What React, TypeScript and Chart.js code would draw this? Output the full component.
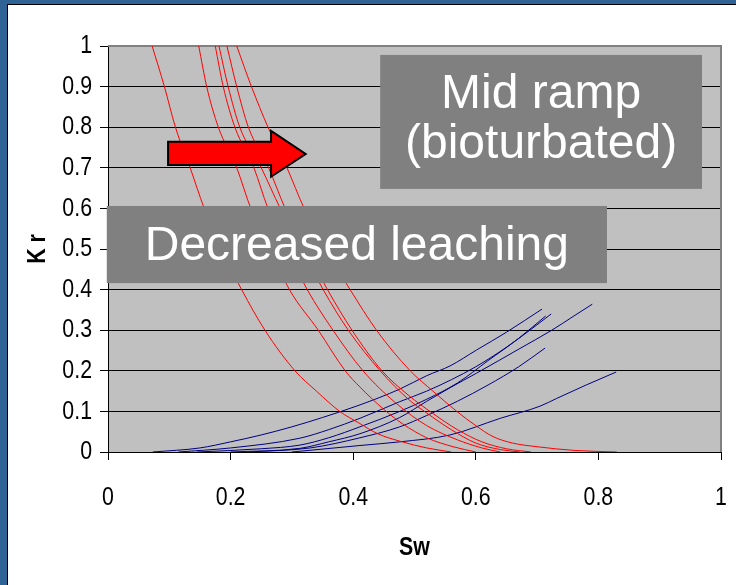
import React, { useEffect, useRef } from 'react';
import { Chart, registerables } from 'chart.js';
Chart.register(...registerables);

// ---- tick labels ----
const xTickLabels = ['0', '0.2', '0.4', '0.6', '0.8', '1'];
const yTickLabels = ['0', '0.1', '0.2', '0.3', '0.4', '0.5', '0.6', '0.7', '0.8', '0.9', '1'];

// ---- red curves (Kro) ----
const red1Sw = [0.072, 0.092, 0.110, 0.134, 0.157, 0.185, 0.218, 0.256, 0.305, 0.340, 0.378, 0.411, 0.440, 0.480, 0.520, 0.560];
const red1Kr = [1, 0.9, 0.8, 0.7, 0.6, 0.5, 0.4, 0.3, 0.2, 0.15, 0.1, 0.07, 0.045, 0.025, 0.01, 0];
const red2Sw = [0.148, 0.161, 0.180, 0.210, 0.233, 0.265, 0.296, 0.343, 0.387, 0.411, 0.450, 0.480, 0.520, 0.563, 0.600];
const red2Kr = [1, 0.9, 0.8, 0.7, 0.6, 0.5, 0.4, 0.3, 0.2, 0.16, 0.105, 0.07, 0.035, 0.013, 0];
const red3Sw = [0.175, 0.188, 0.207, 0.238, 0.261, 0.292, 0.325, 0.367, 0.416, 0.470, 0.520, 0.570, 0.610, 0.640];
const red3Kr = [1, 0.9, 0.8, 0.7, 0.6, 0.5, 0.4, 0.3, 0.2, 0.12, 0.065, 0.03, 0.01, 0];
const red4Sw = [0.181, 0.196, 0.215, 0.250, 0.281, 0.316, 0.351, 0.392, 0.444, 0.490, 0.520, 0.560, 0.600, 0.640, 0.672];
const red4Kr = [1, 0.9, 0.8, 0.7, 0.6, 0.5, 0.4, 0.3, 0.2, 0.13, 0.096, 0.055, 0.022, 0.006, 0];
const red5Sw = [0.194, 0.210, 0.229, 0.262, 0.289, 0.323, 0.358, 0.398, 0.447, 0.490, 0.530, 0.570, 0.610, 0.650, 0.690];
const red5Kr = [1, 0.9, 0.8, 0.7, 0.6, 0.5, 0.4, 0.3, 0.2, 0.14, 0.095, 0.055, 0.025, 0.008, 0];
const red6Sw = [0.210, 0.234, 0.261, 0.292, 0.320, 0.355, 0.395, 0.438, 0.493, 0.530, 0.569, 0.600, 0.628, 0.660, 0.700, 0.760, 0.830];
const red6Kr = [1, 0.9, 0.8, 0.7, 0.6, 0.5, 0.4, 0.3, 0.2, 0.15, 0.1, 0.065, 0.038, 0.022, 0.013, 0.004, 0];

// ---- blue curves (Krw) ----
const blue1Sw = [0.073, 0.150, 0.200, 0.250, 0.300, 0.350, 0.411, 0.476, 0.520, 0.558, 0.601, 0.650, 0.708];
const blue1Kr = [0, 0.01, 0.025, 0.042, 0.062, 0.085, 0.116, 0.155, 0.188, 0.212, 0.251, 0.295, 0.352];
const blue2Sw = [0.115, 0.200, 0.313, 0.360, 0.411, 0.476, 0.520, 0.560, 0.600, 0.650, 0.690, 0.723];
const blue2Kr = [0, 0.01, 0.034, 0.055, 0.083, 0.124, 0.150, 0.178, 0.210, 0.258, 0.302, 0.340];
const blue3Sw = [0.145, 0.250, 0.313, 0.360, 0.411, 0.476, 0.520, 0.570, 0.620, 0.670, 0.714];
const blue3Kr = [0, 0.008, 0.017, 0.035, 0.062, 0.100, 0.130, 0.170, 0.225, 0.280, 0.335];
const blue4Sw = [0.200, 0.313, 0.360, 0.411, 0.476, 0.520, 0.560, 0.601, 0.672, 0.724, 0.760, 0.790];
const blue4Kr = [0, 0.009, 0.025, 0.045, 0.085, 0.125, 0.160, 0.194, 0.255, 0.300, 0.335, 0.364];
const blue5Sw = [0.230, 0.330, 0.411, 0.476, 0.520, 0.570, 0.620, 0.670, 0.713];
const blue5Kr = [0, 0.010, 0.035, 0.062, 0.090, 0.125, 0.165, 0.210, 0.256];
const blue6Sw = [0.300, 0.411, 0.476, 0.558, 0.640, 0.705, 0.732, 0.780, 0.829];
const blue6Kr = [0, 0.016, 0.025, 0.042, 0.083, 0.113, 0.132, 0.165, 0.197];

const redCurves = [
  [red1Sw, red1Kr], [red2Sw, red2Kr], [red3Sw, red3Kr],
  [red4Sw, red4Kr], [red5Sw, red5Kr], [red6Sw, red6Kr],
];
const blueCurves = [
  [blue1Sw, blue1Kr], [blue2Sw, blue2Kr], [blue3Sw, blue3Kr],
  [blue4Sw, blue4Kr], [blue5Sw, blue5Kr], [blue6Sw, blue6Kr],
];

// ---- overlay annotations (in data units) ----
const midRampBox = { x0: 0.444, x1: 0.969, y0: 0.978, y1: 0.648, lines: ['Mid ramp', '(bioturbated)'] };
const leachBox = { x0: -0.002, x1: 0.814, y0: 0.606, y1: 0.416, lines: ['Decreased leaching'] };
const arrowPts = [
  [0.098, 0.764], [0.266, 0.764], [0.266, 0.791], [0.3225, 0.734],
  [0.266, 0.678], [0.266, 0.707], [0.098, 0.707],
];

const SANS = "'Liberation Sans', Arial, Helvetica, sans-serif";
const CONDENSE = 0.82;

// draw the library's own axis texts horizontally condensed (Arial Narrow look)
function condenseScaleText(scale: any) {
  if (scale.__condensed) return;
  scale.__condensed = true;
  const wrap = (name: string) => {
    const orig = scale[name];
    scale[name] = function (...args: any[]) {
      const ctx = this.ctx;
      const origRotate = ctx.rotate;
      ctx.rotate = function (a: number) {
        origRotate.call(this, a);
        this.scale(CONDENSE, 1);
      };
      try {
        return orig.apply(this, args);
      } finally {
        ctx.rotate = origRotate;
      }
    };
  };
  wrap('drawLabels');
  wrap('drawTitle');
}

const overlayPlugin = {
  id: 'overlay',
  beforeDraw(chart: any) {
    condenseScaleText(chart.scales.x);
    condenseScaleText(chart.scales.y);
    const { ctx, chartArea: a } = chart;
    ctx.save();
    ctx.fillStyle = '#C0C0C0';
    ctx.fillRect(a.left, a.top, a.right - a.left, a.bottom - a.top);
    ctx.restore();
  },
  beforeDatasetsDraw(chart: any) {
    const { ctx, chartArea: a } = chart;
    ctx.save();
    ctx.strokeStyle = '#808080';
    ctx.lineWidth = 2;
    ctx.beginPath();
    ctx.moveTo(a.left, a.top);
    ctx.lineTo(a.right, a.top);
    ctx.lineTo(a.right, a.bottom);
    ctx.stroke();
    ctx.restore();
  },
  afterDatasetsDraw(chart: any) {
    const { ctx } = chart;
    const xs = chart.scales.x;
    const ys = chart.scales.y;
    const px = (v: number) => xs.getPixelForValue(v);
    const py = (v: number) => ys.getPixelForValue(v);
    ctx.save();
    // arrow
    ctx.beginPath();
    arrowPts.forEach(([sx, sy], i) => {
      if (i === 0) ctx.moveTo(px(sx), py(sy));
      else ctx.lineTo(px(sx), py(sy));
    });
    ctx.closePath();
    ctx.fillStyle = '#FF0000';
    ctx.fill();
    ctx.lineWidth = 2;
    ctx.strokeStyle = '#000000';
    ctx.lineJoin = 'miter';
    ctx.stroke();
    // boxes
    const drawBox = (b: any, shift: number) => {
      const l = px(b.x0), r = px(b.x1), t = py(b.y0), bt = py(b.y1);
      ctx.fillStyle = '#808080';
      ctx.fillRect(l, t, r - l, bt - t);
      ctx.fillStyle = '#FFFFFF';
      ctx.font = `48px ${SANS}`;
      ctx.textAlign = 'center';
      ctx.textBaseline = 'middle';
      const cx = (l + r) / 2;
      const cy = (t + bt) / 2;
      const n = b.lines.length;
      b.lines.forEach((s: string, i: number) => {
        ctx.fillText(s, cx, cy + (i - (n - 1) / 2) * 50 + shift);
      });
    };
    drawBox(midRampBox, -2);
    drawBox(leachBox, 2);
    ctx.restore();
  },
};

export default function App() {
  const ref = useRef<HTMLCanvasElement | null>(null);
  useEffect(() => {
    document.body.style.margin = '0';
    const datasets: any[] = [];
    redCurves.forEach(([sw, kr], i) => {
      datasets.push({
        label: `Kro ${i + 1}`,
        data: sw.map((x, j) => ({ x, y: kr[j] })),
        borderColor: '#FF0000',
        backgroundColor: '#FF0000',
        borderWidth: 1,
        pointRadius: 0,
        showLine: true,
        cubicInterpolationMode: 'monotone',
      });
    });
    blueCurves.forEach(([sw, kr], i) => {
      datasets.push({
        label: `Krw ${i + 1}`,
        data: sw.map((x, j) => ({ x, y: kr[j] })),
        borderColor: '#000080',
        backgroundColor: '#000080',
        borderWidth: 1,
        pointRadius: 0,
        showLine: true,
        cubicInterpolationMode: 'monotone',
      });
    });
    const chart = new Chart(ref.current as HTMLCanvasElement, {
      type: 'scatter',
      data: { datasets },
      options: {
        animation: false,
        responsive: false,
        devicePixelRatio: 1,
        layout: { padding: { top: 46, right: 15, left: 0, bottom: 0 } },
        plugins: { legend: { display: false }, tooltip: { enabled: false } },
        scales: {
          x: {
            type: 'linear',
            min: 0,
            max: 1,
            ticks: {
              stepSize: 0.2,
              color: '#000',
              padding: 22,
              maxRotation: 0,
              font: { family: SANS, size: 26 },
              callback: (v: any) => xTickLabels[Math.round(Number(v) * 5)],
            },
            grid: { drawOnChartArea: false, drawTicks: true, tickLength: 8, tickColor: '#000', lineWidth: 1 },
            border: { color: '#000', width: 1 },
            title: {
              display: true,
              text: 'Sw',
              color: '#000',
              font: { family: SANS, size: 26, weight: 'bold' },
              padding: { top: 0, bottom: 22 },
            },
            afterFit: (s: any) => {
              s.height = 133;
              s.paddingLeft = 0;
              s.paddingRight = 0;
            },
          },
          y: {
            type: 'linear',
            min: 0,
            max: 1,
            ticks: {
              stepSize: 0.1,
              color: '#000',
              padding: 8,
              font: { family: SANS, size: 26 },
              callback: (v: any) => yTickLabels[Math.round(Number(v) * 10)],
            },
            grid: {
              color: (c: any) => (c.tick && Math.round(c.tick.value * 10) === 10 ? 'rgba(0,0,0,0)' : '#000'),
              tickColor: '#000',
              tickLength: 8,
              lineWidth: 1,
            },
            border: { color: '#000', width: 1 },
            title: {
              display: true,
              text: 'K r',
              color: '#000',
              font: { family: SANS, size: 26, weight: 'bold' },
              padding: { top: 22, bottom: 0 },
            },
            afterFit: (s: any) => {
              s.width = 108;
              s.paddingTop = 0;
              s.paddingBottom = 0;
            },
          },
        },
      },
      plugins: [overlayPlugin],
    } as any);
    return () => chart.destroy();
  }, []);

  return (
    <div style={{ position: 'relative', width: 736, height: 585, background: '#2F6396', overflow: 'hidden' }}>
      <div
        style={{
          position: 'absolute', left: 7, top: 4, width: 729, height: 581,
          background: '#FFFFFF', borderLeft: '1px solid #000', borderTop: '1px solid #000', boxSizing: 'border-box',
        }}
      />
      <canvas ref={ref} width={736} height={585} style={{ position: 'absolute', left: 0, top: 0, width: 736, height: 585 }} />
    </div>
  );
}
